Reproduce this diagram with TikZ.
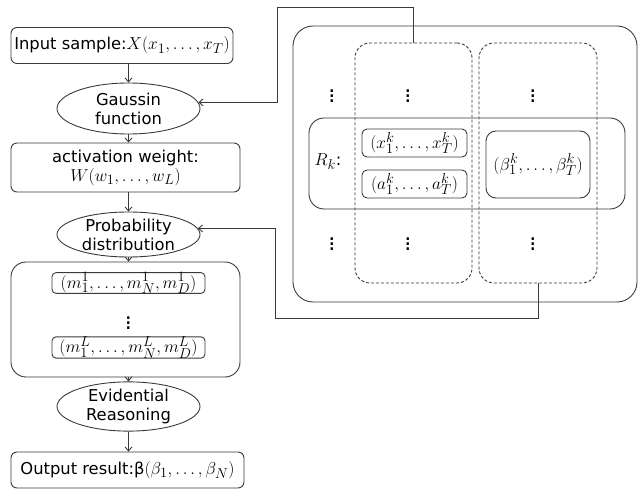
\documentclass[tikz,border=0pt]{standalone}
\usepackage{fontspec}
\setmainfont[Scale=0.86]{DejaVu Sans}
\usetikzlibrary{arrows.meta,shapes.geometric}
\definecolor{ln}{HTML}{3A3A3A}
\newcommand{\bigvd}{\scalebox{1.35}{$\vdots$}}
\begin{document}
\begin{tikzpicture}[x=1pt,y=-1pt,
  every node/.style={font=\fontsize{19}{19}\selectfont, inner sep=0pt, align=center, text=black},
  rbox/.style={draw=ln, line width=0.9pt, rounded corners=6pt},
  sbox/.style={draw=ln, line width=0.9pt, rounded corners=4pt},
  ell/.style={draw=ln, line width=0.9pt, ellipse},
  dbox/.style={draw=ln, line width=0.9pt, rounded corners=15pt, dash pattern=on 3pt off 2pt},
  conn/.style={draw=ln, line width=0.9pt},
  arr/.style={conn, -{Straight Barb[length=4pt,width=7pt]}}]
\useasboundingbox (0,0) rectangle (638,489);
% left column
\node[rbox, minimum width=222, minimum height=36] (in) at (122,45.5) {Input sample:$X(x_1,\dots,x_T)$};
\node[ell, minimum width=143, minimum height=51] (g) at (128.5,108.5) {Gaussin\\function};
\node[rbox, minimum width=229, minimum height=49] (aw) at (125.5,167.5) {activation weight:\\$W(w_1,\dots,w_L)$};
\node[ell, minimum width=143, minimum height=45] (p) at (128.5,234.5) {Probability\\distribution};
\node[rbox, rounded corners=15pt, minimum width=229, minimum height=115] (mb) at (125.5,319.5) {};
\node[sbox, minimum width=153, minimum height=20] (m1) at (128.5,283) {$(m_1^1,\dots,m_N^1,m_D^1)$};
\node (md) at (128.5,319) {\bigvd};
\node[sbox, minimum width=153, minimum height=21] (mL) at (128.5,347.5) {$(m_1^L,\dots,m_N^L,m_D^L)$};
\node[ell, minimum width=143, minimum height=47] (er) at (128.5,406.5) {Evidential\\Reasoning};
\node[rbox, minimum width=233, minimum height=36] (out) at (127.5,470) {Output result:β$(\beta_1,\dots,\beta_N)$};
% left arrows
\draw[arr] (g.north |- in.south) -- (g.north);
\draw[arr] (g.south) -- (g.south |- aw.north);
\draw[arr] (p.north |- aw.south) -- (p.north);
\draw[arr] (p.south) -- (p.south |- mb.north);
\draw[arr] (er.north |- mb.south) -- (er.north);
\draw[arr] (er.south) -- (er.south |- out.north);
% right part
\node[rbox, rounded corners=20pt, minimum width=344, minimum height=276] (outer) at (465,164) {};
\node[dbox, minimum width=117, minimum height=240] (c1) at (413.5,163) {};
\node[dbox, minimum width=118, minimum height=240] (c2) at (538,163) {};
\node[rbox, rounded corners=15pt, minimum width=316, minimum height=91] (row) at (467,163.5) {};
\node[sbox, rounded corners=5pt, minimum width=105, minimum height=28] (xk) at (414.5,143) {$(x_1^k,\dots,x_T^k)$};
\node[sbox, rounded corners=5pt, minimum width=105, minimum height=28] (ak) at (414.5,184) {$(a_1^k,\dots,a_T^k)$};
\node[sbox, rounded corners=10pt, minimum width=104, minimum height=67] (bk) at (538,164.5) {$(\beta_1^k,\dots,\beta_T^k)$};
\node (rk) at (328,162) {$R_k$:};
\node (v1) at (332,92) {\bigvd};
\node (v2) at (408,92) {\bigvd};
\node (v3) at (533,92) {\bigvd};
\node (v4) at (332,240) {\bigvd};
\node (v5) at (408,240) {\bigvd};
\node (v6) at (533,240) {\bigvd};
% connectors
\coordinate (t1) at (277,7);
\coordinate (b1) at (275,318);
\draw[arr] (c1.north) |- (t1) |- (g.5);
\draw[arr] (c2.south) |- (b1) |- (p.5);
\end{tikzpicture}
\end{document}
